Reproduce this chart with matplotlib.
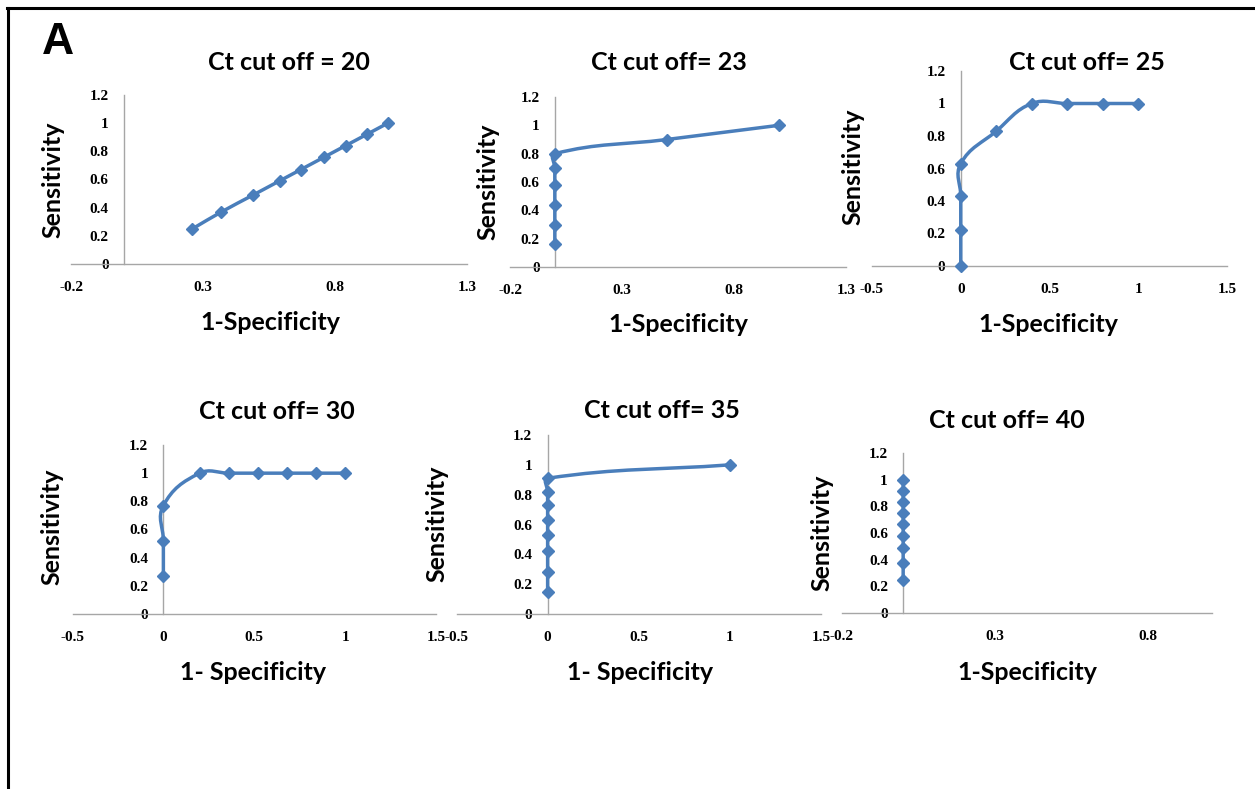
import matplotlib
matplotlib.use('Agg')
import matplotlib.pyplot as plt
import numpy as np
from matplotlib.path import Path
from matplotlib.patches import PathPatch
from matplotlib.lines import Line2D
from matplotlib.ticker import FuncFormatter

# ROC points (1-specificity, sensitivity)
fpr_20 = [0.26, 0.37, 0.49, 0.59, 0.67, 0.76, 0.84, 0.92, 1.0]
sens_20 = [0.25, 0.37, 0.49, 0.59, 0.67, 0.76, 0.84, 0.92, 1.0]
fpr_23 = [0, 0, 0, 0, 0, 0, 0.5, 1.0]
sens_23 = [0.16, 0.30, 0.44, 0.58, 0.70, 0.80, 0.90, 1.0]
fpr_25 = [0, 0, 0, 0, 0.2, 0.4, 0.6, 0.8, 1.0]
sens_25 = [0, 0.22, 0.43, 0.63, 0.83, 1.0, 1.0, 1.0, 1.0]
fpr_30 = [0, 0, 0, 0.2, 0.36, 0.52, 0.68, 0.84, 1.0]
sens_30 = [0.27, 0.52, 0.77, 1.0, 1.0, 1.0, 1.0, 1.0, 1.0]
fpr_35 = [0, 0, 0, 0, 0, 0, 0, 0, 1.0]
sens_35 = [0.15, 0.28, 0.42, 0.53, 0.63, 0.73, 0.82, 0.91, 1.0]
fpr_40 = [0, 0, 0, 0, 0, 0, 0, 0, 0]
sens_40 = [0.25, 0.375, 0.49, 0.58, 0.665, 0.75, 0.83, 0.915, 1.0]

titles = ['Ct cut off = 20', 'Ct cut off= 23', 'Ct cut off= 25',
          'Ct cut off= 30', 'Ct cut off= 35', 'Ct cut off= 40']
xlabels = ['1-Specificity', '1-Specificity', '1-Specificity',
           '1- Specificity', '1- Specificity', '1-Specificity']
xticks_a = [-0.2, 0.3, 0.8, 1.3]
xticks_b = [-0.5, 0, 0.5, 1, 1.5]
xticks_c = [-0.2, 0.3, 0.8]
yticks = [0, 0.2, 0.4, 0.6, 0.8, 1, 1.2]

series = [(fpr_20, sens_20), (fpr_23, sens_23), (fpr_25, sens_25),
          (fpr_30, sens_30), (fpr_35, sens_35), (fpr_40, sens_40)]
xlims = [(-0.2, 1.3), (-0.2, 1.3), (-0.5, 1.5), (-0.5, 1.5), (-0.5, 1.5), (-0.2, 1.01)]
xtick_sets = [xticks_a, xticks_a, xticks_b, xticks_b, xticks_b, xticks_c]

# layout in pixels: (left, right, top, bottom) of each plot area
boxes = [(71, 467, 95, 264), (510, 846, 97, 267), (872, 1227, 71, 266),
         (72.5, 436, 445, 614), (456.5, 821, 435, 614), (842, 1212, 453, 613)]
title_pos = [(289, 63), (669, 62), (1087, 63), (277, 412), (662, 410), (1007, 420)]
xlabel_pos = [(270, 323), (678, 325), (1048, 325), (253, 673), (640, 673), (1027, 673)]
ylabel_pos = [(53, 180), (488, 182), (853, 167), (52, 527), (437, 524), (822, 533)]

W, H = 1255, 789
blue = '#4A7EBB'
grey = '#A6A6A6'
label_font = 'Lato'

# tick numbers: small bold serif
plt.rcParams['font.family'] = ['Liberation Serif']
plt.rcParams['font.weight'] = 'bold'
plt.rcParams['xtick.labelsize'] = 11
plt.rcParams['ytick.labelsize'] = 11


def smooth_path(x, y, sx, sy):
    # excel style smoothed line; tangents worked out in pixel space so
    # short segments next to long ones only bend a little
    p = np.column_stack([np.asarray(x, float) * sx, np.asarray(y, float) * sy])
    n = len(p)
    tang = []
    for i in range(n):
        a = p[i - 1] if i > 0 else p[i]
        b = p[i + 1] if i + 1 < n else p[i]
        d = b - a
        nd = np.hypot(*d)
        tang.append(d / nd if nd > 0 else d)
    verts = [p[0]]
    codes = [Path.MOVETO]
    for i in range(n - 1):
        seg = np.hypot(*(p[i + 1] - p[i]))
        c1 = p[i] + tang[i] * seg / 2.5
        c2 = p[i + 1] - tang[i + 1] * seg / 2.5
        verts += [c1, c2, p[i + 1]]
        codes += [Path.CURVE4] * 3
    verts = np.array(verts) / [sx, sy]
    return Path(verts, codes)


fig = plt.figure(figsize=(W / 100, H / 100), dpi=100)
fmt = FuncFormatter(lambda v, pos: '%g' % round(v, 2))

for k in range(6):
    l, r, t, b = boxes[k]
    ax = fig.add_axes([l / W, 1 - b / H, (r - l) / W, (b - t) / H])
    x, y = series[k]
    x0, x1 = xlims[k]
    sx = (r - l) / (x1 - x0)
    sy = (b - t) / 1.2
    ax.add_patch(PathPatch(smooth_path(x, y, sx, sy), facecolor='none', edgecolor=blue,
                           lw=2.5, zorder=3, capstyle='round', joinstyle='round'))
    ax.plot(x, y, linestyle='none', marker='D', ms=6.5, color=blue, zorder=4, clip_on=False)

    ax.set_xlim(x0, x1)
    ax.set_ylim(0, 1.2)
    ax.set_xticks(xtick_sets[k])
    ax.set_yticks(yticks)
    ax.xaxis.set_major_formatter(fmt)
    ax.yaxis.set_major_formatter(fmt)
    ax.spines['left'].set_position(('data', 0))
    for s in ['top', 'right']:
        ax.spines[s].set_visible(False)
    for s in ['left', 'bottom']:
        ax.spines[s].set_color(grey)
        ax.spines[s].set_linewidth(1.0)
    ax.tick_params(axis='x', length=0, pad=12)
    ax.tick_params(axis='y', length=0, pad=11)
    ax.patch.set_alpha(0)

    tx, ty = title_pos[k]
    fig.text(tx / W, 1 - ty / H, titles[k], ha='center', va='center',
             fontsize=18, fontweight='bold', family=label_font)
    lx, ly = xlabel_pos[k]
    fig.text(lx / W, 1 - ly / H, xlabels[k], ha='center', va='center',
             fontsize=18, fontweight='bold', family=label_font)
    vx, vy = ylabel_pos[k]
    fig.text(vx / W, 1 - vy / H, 'Sensitivity', ha='center', va='center', rotation=90,
             fontsize=18, fontweight='bold', family=label_font)

# panel letter and frame
fig.text(58 / W, 1 - 43 / H, 'A', ha='center', va='center', fontsize=32,
         fontweight='bold', family='Liberation Sans')
fig.add_artist(Line2D([7.5 / W, 7.5 / W], [0, 1 - 8 / H], color='black', lw=2.2))
fig.add_artist(Line2D([6.7 / W, 1], [1 - 8 / H, 1 - 8 / H], color='black', lw=2.2))

fig.savefig('out.png', dpi=100, facecolor='white')
